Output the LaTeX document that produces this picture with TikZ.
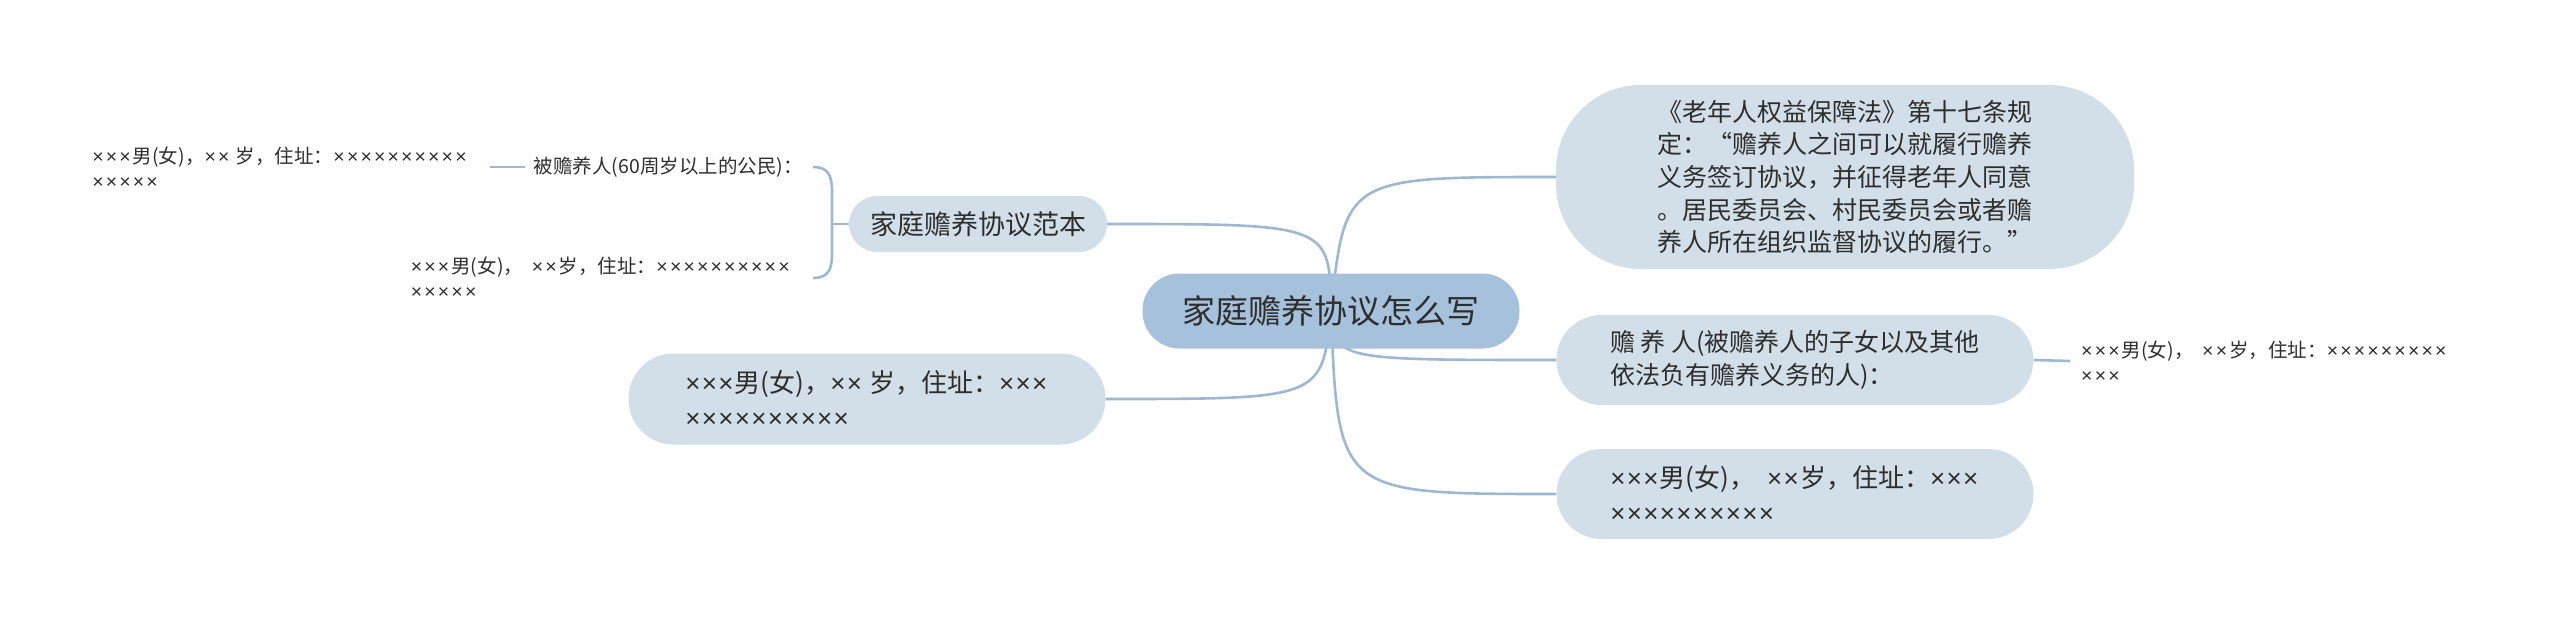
\documentclass[tikz,border=0pt]{standalone}
\usepackage{fontspec}
\newfontfamily\cjk{Noto Sans CJK SC}
\newfontfamily\latf{Liberation Sans}
\def\xkern{0.04em}
\newcommand{\X}{{\latf ×}\kern\xkern}
\definecolor{rootc}{HTML}{A5C1DC}
\definecolor{subc}{HTML}{D3DFE8}
\definecolor{linec}{HTML}{9DB8D0}
\definecolor{txt}{HTML}{2E2E2E}
\pgfdeclarelayer{bg}
\pgfsetlayers{bg,main}
\tikzset{
  base/.style={text=txt, inner sep=0pt, align=left},
  rootbox/.style={base, fill=rootc, rounded corners=37pt, minimum width=377pt, minimum height=75pt, font=\cjk\fontsize{33}{40}\selectfont},
  subbox/.style={base, fill=subc, rounded corners=45pt, minimum width=477pt, minimum height=90pt, font=\cjk\fontsize{26}{35}\selectfont\def\xkern{0.05em}},
  leaftext/.style={base, inner xsep=11pt, font=\cjk\fontsize{19.5}{25}\selectfont\def\xkern{0.11em}},
  conn/.style={draw=linec, line width=2.6pt},
}
\begin{document}
\begin{tikzpicture}[x=1pt,y=-1pt]
\useasboundingbox (0,0) rectangle (2560,623);
% nodes
\node[rootbox] (root) at (1331,311) {家庭赡养协议怎么写};
\node[subbox, minimum width=258pt, minimum height=56pt, rounded corners=28pt, font=\cjk\fontsize{27}{32}\selectfont] (fb) at (978,224) {家庭赡养协议范本};
\node[subbox, minimum height=91pt] (bl) at (867,399) {\X\X\X 男(女)，\X\X\ 岁，住址：\X\X\X\\\X\X\X\X\X\X\X\X\X\X};
\node[subbox, minimum width=578pt, minimum height=184pt, rounded corners=85pt, font=\cjk\fontsize{25}{32.7}\selectfont] (rt) at (1845,177) {《老年人权益保障法》第十七条规\\定：“赡养人之间可以就履行赡养\\义务签订协议，并征得老年人同意\\。居民委员会、村民委员会或者赡\\养人所在组织监督协议的履行。”};
\node[subbox, font=\cjk\fontsize{25}{33}\selectfont] (rm) at (1795,360) {赡 养 人(被赡养人的子女以及其他\\依法负有赡养义务的人)：};
\node[subbox] (rb) at (1795,494) {\X\X\X 男(女)，\ \ \X\X 岁，住址：\X\X\X\\\X\X\X\X\X\X\X\X\X\X};
\node[leaftext, anchor=west] (rl) at (2070,361.5) {\X\X\X 男(女)，\ \ \X\X 岁，住址：\X\X\X\X\X\X\X\X\X\\\X\X\X};
\node[leaftext, anchor=east] (pl) at (814,167) {被赡养人(60周岁以上的公民)：};
\node[leaftext, anchor=east] (pc) at (803,278) {\X\X\X 男(女)，\ \ \X\X 岁，住址：\X\X\X\X\X\X\X\X\X\X\\\X\X\X\X\X};
\node[leaftext, anchor=east] (pp) at (480,167.5) {\X\X\X 男(女)，\X\X\ 岁，住址：\X\X\X\X\X\X\X\X\X\X\\\X\X\X\X\X};
\coordinate (bt) at (813,167);
\coordinate (bb) at (813,278);
\coordinate (bm) at (832,224);
\coordinate (plw) at (525,167);
\coordinate (ppe) at (490,167);
\coordinate (rle) at (2070,361);
% connectors
\begin{pgfonlayer}{bg}
\draw[conn] (root.center) .. controls (1330,224) .. (fb.east);
\draw[conn] (root.center) .. controls (1322,399) .. (bl.east);
\draw[conn] (root.center) .. controls (1345,177) .. (rt.west);
\draw[conn] (root.center) .. controls (1335,360) .. (rm.west);
\draw[conn] (root.center) .. controls (1338,494) .. (rb.west);
\draw[conn] (rm.east) -- (rle);
\draw[conn] (fb.west) -- (bm);
\draw[conn] (bt) .. controls (828,167) and (832,175) .. (832,192) -- (832,254) .. controls (832,270) and (828,278) .. (bb);
\draw[conn] (plw) -- (ppe);
\end{pgfonlayer}
\end{tikzpicture}
\end{document}
